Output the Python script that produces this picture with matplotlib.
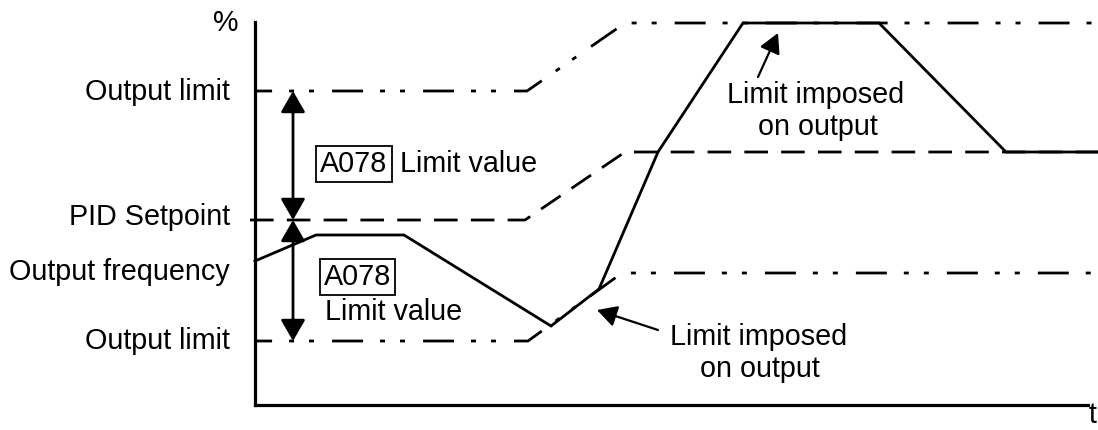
import matplotlib
matplotlib.use("Agg")
import matplotlib.pyplot as plt
from matplotlib.patches import FancyArrowPatch

plt.rcParams['font.family'] = ['Liberation Sans', 'DejaVu Sans']
plt.rcParams['lines.scale_dashes'] = False

# ---- data (time units / percent units) ----
freq_t = [0, 61, 149, 296, 344, 403, 488, 624, 751, 843]
freq_v = [144, 170, 170, 79, 116, 253, 382, 382, 253, 253]

setpoint_t = [-5, 270, 370, 843]
setpoint_v = [185, 185, 253, 253]

upper_limit_t = [0, 272, 370, 843]
upper_limit_v = [314, 314, 382, 382]

lower_limit_t = [0, 273, 367, 843]
lower_limit_v = [64, 64, 132, 132]

left_labels = ["Output limit", "PID Setpoint", "Output frequency", "Output limit"]
left_label_v = [305, 180, 125, 56]
left_label_x = [-25, -25, -25, -25]

param_code = "A078"

fig = plt.figure(figsize=(10.98, 4.30), dpi=100)
ax = fig.add_axes([0, 0, 1, 1])
ax.set_xlim(-255, 843)
ax.set_ylim(-25, 405)
ax.set_xticks([])
ax.set_yticks([])
for s in ['top', 'right']:
    ax.spines[s].set_visible(False)
ax.spines['left'].set_position(('data', 0))
ax.spines['bottom'].set_position(('data', 0))
ax.spines['left'].set_bounds(0, 383)
ax.spines['bottom'].set_bounds(0, 833)
ax.spines['left'].set_linewidth(2.3)
ax.spines['bottom'].set_linewidth(2.3)
ax.patch.set_visible(False)

lw = 2.0
dashdotdot = (10, (22.3, 12.2, 3.6, 10.8, 3.6, 13.0))
ax.plot(upper_limit_t, upper_limit_v, color='black', lw=lw, linestyle=dashdotdot,
        dash_capstyle='butt')
ax.plot(lower_limit_t, lower_limit_v, color='black', lw=lw, linestyle=dashdotdot,
        dash_capstyle='butt')
ax.plot(setpoint_t, setpoint_v, color='black', lw=lw, linestyle=(0, (17.0, 9.5)),
        dash_capstyle='butt')
ax.plot(freq_t, freq_v, color='black', lw=lw, solid_joinstyle='miter')

fs = 20.7
for lab, x, v in zip(left_labels, left_label_x, left_label_v):
    ax.text(x, v, lab, ha='right', va='baseline', fontsize=fs)

ax.text(-16, 382, "%", ha='right', va='center', fontsize=fs)
ax.text(834, -18, "t", ha='left', va='baseline', fontsize=fs)

# double arrows for limit value
def dbl_arrow(x, y0, y1):
    a = FancyArrowPatch((x, y0), (x, y1),
                        arrowstyle='<|-|>,head_length=13,head_width=7.5',
                        mutation_scale=1, shrinkA=0, shrinkB=0,
                        color='black', lw=2.0)
    ax.add_patch(a)

dbl_arrow(38, upper_limit_v[0], setpoint_v[1])
dbl_arrow(38, setpoint_v[1], lower_limit_v[0])

box = dict(boxstyle='square,pad=0.15', fc='white', ec='black', lw=1.3)
ax.text(99, 233, param_code, ha='center', va='baseline', fontsize=fs, bbox=box)
ax.text(145, 233, "Limit value", ha='left', va='baseline', fontsize=fs)
ax.text(102.5, 120, param_code, ha='center', va='baseline', fontsize=fs, bbox=box)
ax.text(70, 85, "Limit value", ha='left', va='baseline', fontsize=fs)

def pointer(tail, tip):
    a = FancyArrowPatch(tail, tip,
                        arrowstyle='-|>,head_length=12,head_width=6.5',
                        mutation_scale=1, shrinkA=0, shrinkB=0,
                        color='black', lw=1.6)
    ax.add_patch(a)

pointer((503, 328), (523, 372))
ax.text(560.5, 302, "Limit imposed", ha='center', va='baseline', fontsize=fs)
ax.text(562.5, 270, "on output", ha='center', va='baseline', fontsize=fs)

pointer((403, 75), (342, 95))
ax.text(504, 60, "Limit imposed", ha='center', va='baseline', fontsize=fs)
ax.text(505, 28, "on output", ha='center', va='baseline', fontsize=fs)

fig.savefig("out.png", dpi=100)
